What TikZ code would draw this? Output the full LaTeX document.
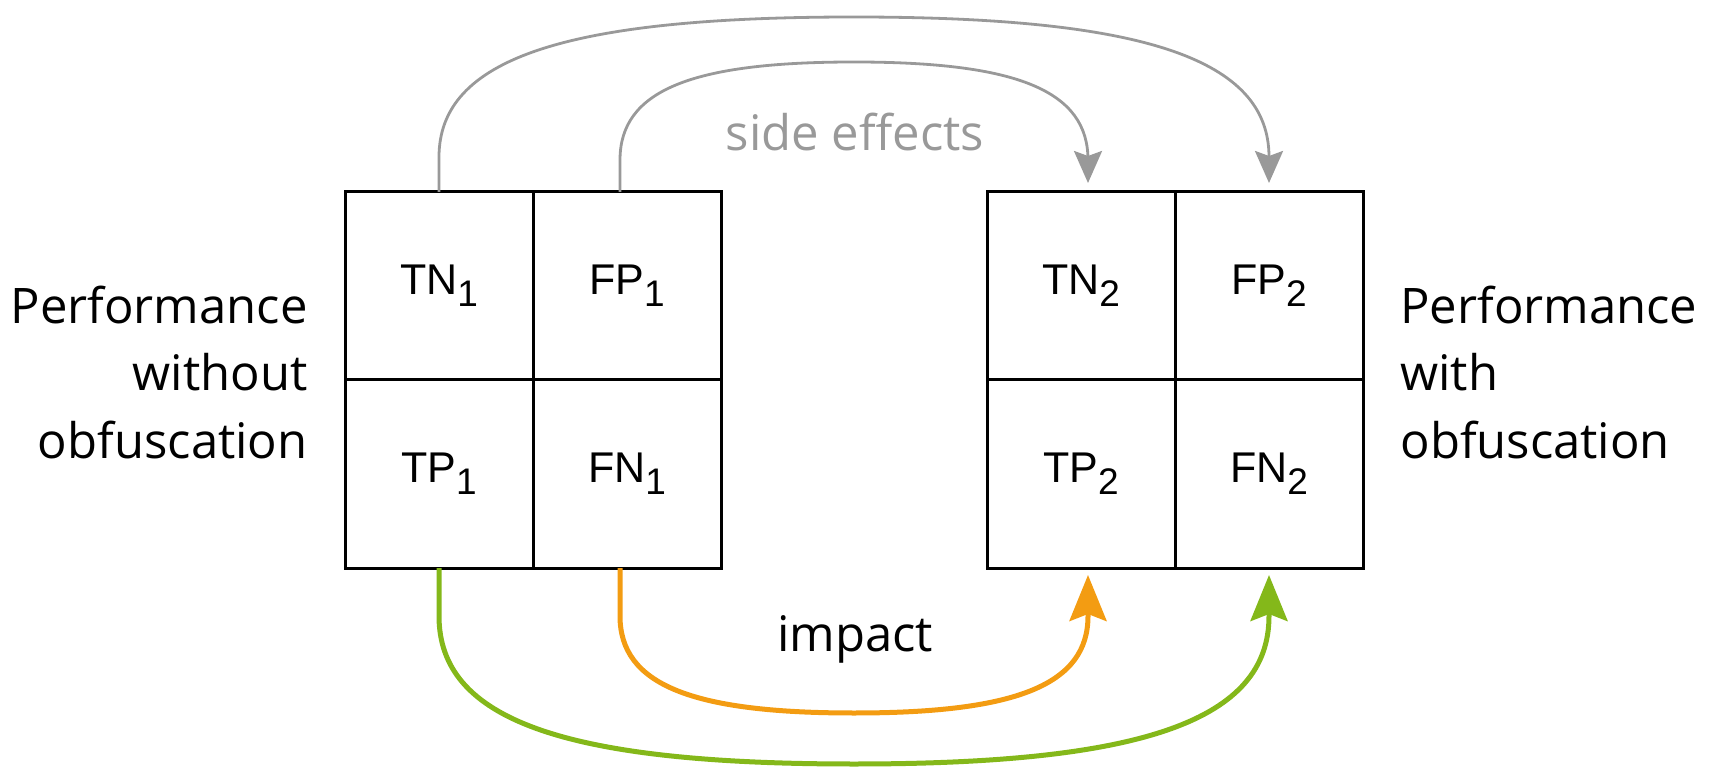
\documentclass[tikz,border=0pt]{standalone}
\usepackage{fontspec}
\setmainfont{Open Sans}
\newfontfamily\cellfont{Liberation Sans}
\usetikzlibrary{arrows.meta,positioning}
\definecolor{sidegray}{HTML}{999999}
\definecolor{impactorange}{HTML}{F39C12}
\definecolor{impactgreen}{HTML}{84B81A}
\newcommand{\lowidx}[1]{\raisebox{-6pt}{\fontsize{18.5}{18.5}\selectfont #1}}
\begin{document}
\begin{tikzpicture}[x=0.5pt,y=-0.5pt,
  cellbox/.style={draw,line width=1.5pt,minimum width=94pt,minimum height=94pt,inner sep=0pt,outer sep=0pt,font=\cellfont\fontsize{21.5}{21.5}\selectfont},
  perflabel/.style={inner sep=0pt,font=\fontsize{24.5}{33.75}\selectfont},
  sidearrow/.style={sidegray,line width=1.4pt,-{Stealth[length=16pt,width=14pt,inset=2.5pt]},shorten >=4.5pt},
  impactarrow/.style={line width=2.5pt,-{Stealth[length=23pt,width=18.5pt,inset=3.5pt]},shorten >=3.5pt}]
\useasboundingbox (0,0) rectangle (1712,769);
% matrix without obfuscation
\node[cellbox] (tn1) at (439,286) {TN\lowidx{1}};
\node[cellbox] (fp1) at (627,286) {FP\lowidx{1}};
\node[cellbox] (tp1) at (439,474) {TP\lowidx{1}};
\node[cellbox] (fn1) at (627,474) {FN\lowidx{1}};
% matrix with obfuscation
\node[cellbox] (tn2) at (1081,286) {TN\lowidx{2}};
\node[cellbox] (fp2) at (1269,286) {FP\lowidx{2}};
\node[cellbox] (tp2) at (1081,474) {TP\lowidx{2}};
\node[cellbox] (fn2) at (1269,474) {FN\lowidx{2}};
\node[perflabel,align=right,anchor=east] (without) at (308,372) {Performance\\without\\obfuscation};
\node[perflabel,align=left,anchor=west] (with) at (1400,372) {Performance\\with\\obfuscation};
\node[perflabel,text=sidegray] (side) at (855,132) {side effects};
\node[perflabel] (impact) at (855,639) {impact};
% side effects
\draw[sidearrow] (tn1.north) -- ++(0,-35) .. controls +(0,-98) and +(-290,0) .. ++(415,-140) .. controls +(290,0) and +(0,-98) .. ++(415,140) -- (fp2.north);
\draw[sidearrow] ([xshift=-3.5pt]fp1.north) -- ++(0,-32) .. controls +(0,-69) and +(-164,0) .. ++(234,-98) .. controls +(164,0) and +(0,-69) .. ++(234,98) -- ([xshift=3.5pt]tn2.north);
% impact
\draw[impactarrow,impactgreen] (tp1.south) -- ++(0,48) .. controls +(0,104) and +(-290,0) .. ++(415,148) .. controls +(290,0) and +(0,104) .. ++(415,-148) -- (fn2.south);
\draw[impactarrow,impactorange] ([xshift=-3.5pt]fn1.south) -- ++(0,48) .. controls +(0,68) and +(-164,0) .. ++(234,97) .. controls +(164,0) and +(0,68) .. ++(234,-97) -- ([xshift=3.5pt]tp2.south);
\end{tikzpicture}
\end{document}
